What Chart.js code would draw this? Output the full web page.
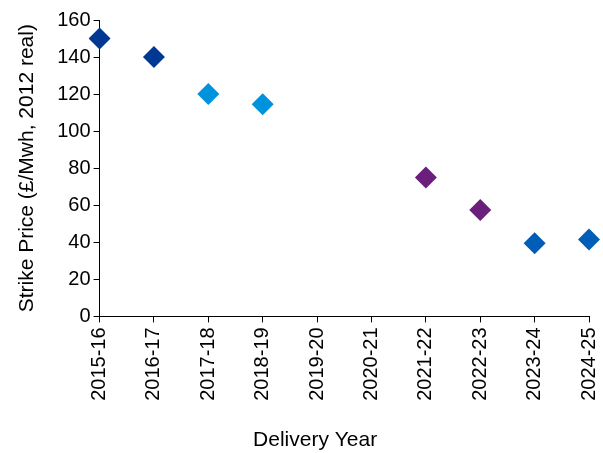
<!DOCTYPE html>
<html>
<head>
<meta charset="utf-8">
<script src="https://cdn.jsdelivr.net/npm/chart.js@4"></script>
<style>
html,body{margin:0;padding:0;background:#fff;}
#wrap{width:603px;height:453px;}
</style>
</head>
<body>
<div id="wrap"><canvas id="c" width="603" height="453"></canvas></div>
<script>
const categories = ["2015-16","2016-17","2017-18","2018-19","2019-20","2020-21","2021-22","2022-23","2023-24","2024-25"];
const strikePrice = [150, 140, 120, 114.5, null, null, 75, 57.5, 39.5, 41.5];
const yTicks = [0, 20, 40, 60, 80, 100, 120, 140, 160];
const pointColors = ["#003893","#003893","#0093dd","#0093dd","#0093dd","#0093dd","#6b1f7c","#6b1f7c","#005eb8","#005eb8"];

Chart.defaults.font.family = "'Liberation Sans', Arial, sans-serif";
Chart.defaults.color = "#000";

new Chart(document.getElementById('c'), {
  type: 'line',
  data: {
    labels: categories,
    datasets: [{
      data: strikePrice,
      showLine: false,
      pointStyle: 'rectRot',
      pointRadius: 11,
      pointHoverRadius: 11,
      pointBackgroundColor: pointColors,
      pointBorderColor: pointColors,
      pointBorderWidth: 0
    }]
  },
  options: {
    responsive: false,
    animation: false,
    devicePixelRatio: 1,
    plugins: { legend: { display: false }, tooltip: { enabled: false } },
    layout: { padding: { top: 20, right: 2, left: 15, bottom: 0 } },
    scales: {
      x: {
        type: 'category',
        offset: false,
        afterFit: (scale) => { scale.paddingRight = 14; },
        grid: { display: true, drawOnChartArea: false, drawTicks: true, tickLength: 6, color: '#000', lineWidth: 1 },
        border: { display: true, color: '#000', width: 1 },
        ticks: { minRotation: 90, maxRotation: 90, autoSkip: false, font: { size: 20 }, padding: 5 },
        title: { display: true, text: 'Delivery Year          ', font: { size: 21 }, padding: { top: 22, bottom: 0 } }
      },
      y: {
        min: 0, max: 160,
        afterBuildTicks: (axis) => { axis.ticks = yTicks.map(v => ({ value: v })); },
        grid: { display: true, drawOnChartArea: false, drawTicks: true, tickLength: 6, color: '#000', lineWidth: 1 },
        border: { display: true, color: '#000', width: 1 },
        ticks: { font: { size: 20 }, padding: 3 },
        title: { display: true, text: 'Strike Price (£/Mwh, 2012 real)', font: { size: 21 }, padding: { top: 0, bottom: 14 } }
      }
    }
  }
});
</script>
</body>
</html>
